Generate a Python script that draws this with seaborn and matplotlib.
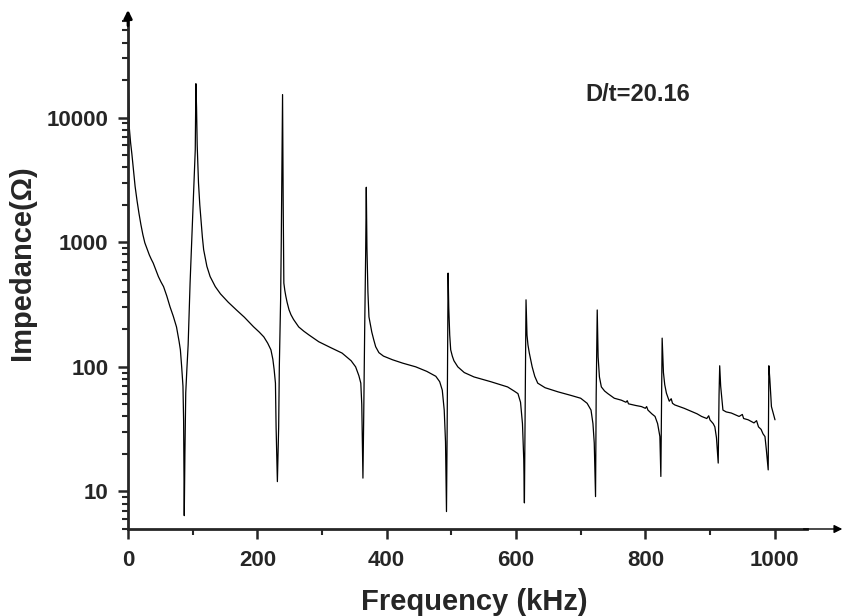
import numpy as np
import pandas as pd
import matplotlib
matplotlib.use("Agg")
import matplotlib.pyplot as plt
import seaborn as sns

# ---- data (frequency in kHz, impedance in Ohm) ----
freq_seg0 = [0, 1, 2, 3, 4, 6, 8, 11, 14, 17, 20, 23, 26, 30, 33, 36, 39, 43, 47, 51, 55, 60, 65, 70,
             75, 79, 81, 83, 85, 86, 87]
imp_seg0 = [20400, 15000, 8300, 7200, 6300, 5100, 4000, 2800, 2150, 1700, 1380, 1150, 990, 870, 790,
            730, 680, 600, 530, 480, 440, 370, 303, 255, 209, 160, 137, 100, 70, 37, 6.4]

freq_seg1 = [88, 89.3, 91, 93, 96, 99, 101, 104, 105, 106, 107, 109, 111, 113, 115, 117, 122, 127, 135,
             143, 155, 168, 180, 194, 203, 210, 216, 221, 224, 226, 228, 229, 231]
imp_seg1 = [20, 62, 95, 150, 470, 1180, 2200, 5500, 18700, 12000, 6000, 3000, 2000, 1500, 1100, 870,
            640, 530, 440, 385, 330, 285, 250, 210, 190, 174, 155, 137, 115, 95, 74, 33, 12]

freq_seg2 = [232, 233, 234, 236, 237, 238, 239, 240, 241, 242.5, 244, 246, 249, 252, 256, 264, 272,
             280, 295, 313, 331, 345, 352, 357, 360, 361.5, 362.5, 363.3]
imp_seg2 = [20, 33, 100, 345, 1000, 4000, 15300, 2000, 470, 410, 370, 330, 287, 262, 240, 209, 193,
            180, 159, 143, 129, 112, 100, 85, 74, 50, 25, 12.8]

freq_seg3 = [364.5, 366, 367.5, 368.5, 369.5, 371, 372.6, 375, 377, 380, 383, 388, 395, 409, 425, 445,
             462, 476, 482, 486, 489, 491, 492.5]
imp_seg3 = [40, 200, 800, 2760, 900, 400, 252, 215, 190, 165, 145, 130, 122, 114, 107, 100, 92, 84, 76,
            65, 45, 25, 6.9]

freq_seg4 = [493.5, 494.3, 495, 496, 497.5, 499, 501.5, 504, 510, 520, 535, 561, 587, 597, 603, 607,
             610, 612, 613]
imp_seg4 = [30, 150, 565, 300, 180, 137, 122, 112, 100, 90, 83, 76, 69, 64, 61, 52, 35, 18, 8.1]

freq_seg5 = [614, 615.5, 617, 618.5, 620.6, 625, 629, 633.6, 645, 665, 685, 700, 710, 716, 719, 721,
             723]
imp_seg5 = [40, 345, 180, 150, 129, 100, 84, 74, 68, 63, 59, 56, 51, 45, 35, 24.5, 9.1]

freq_seg6 = [724, 725.6, 727, 729, 732, 737, 742, 752, 763, 770, 772, 774, 785, 794, 800, 802, 804,
             810, 815, 819, 822.5, 824]
imp_seg6 = [60, 286, 120, 83, 69, 64, 61, 56, 54, 52, 53.5, 50.5, 49, 48, 46.5, 48, 45, 42, 40, 35,
            27.6, 13.2]

freq_seg7 = [825, 826, 828, 830, 832.6, 837, 840, 842, 845.5, 860, 871, 880, 887, 895, 898, 900, 905,
             907.5, 910, 912.7]
imp_seg7 = [50, 170, 90, 72, 61.5, 53, 55.5, 51, 49.5, 46.5, 44, 42, 40, 38.5, 40.5, 37.5, 35, 33, 27,
            16.9]

freq_seg8 = [914, 915, 916.5, 920, 925, 933, 945, 950, 952, 959, 968, 972, 975, 979, 982, 985, 987, 990]
imp_seg8 = [60, 102, 70, 45, 43.5, 42.6, 40, 41.5, 38.5, 37.6, 35.5, 37, 33, 31.5, 29, 27.6, 22, 14.9]

freq_seg9 = [990.5, 991, 992.5, 995, 998, 1000.5]
imp_seg9 = [40, 102, 80, 48, 42, 37.6]

x_ticks = [0, 200, 400, 600, 800, 1000]
y_ticks = [10, 100, 1000, 10000]
y_tick_labels = ["10", "100", "1000", "10000"]
annotation = "D/t=20.16"

freq = (freq_seg0 + freq_seg1 + freq_seg2 + freq_seg3 + freq_seg4 + freq_seg5 + freq_seg6 + freq_seg7
        + freq_seg8 + freq_seg9)
imp = (imp_seg0 + imp_seg1 + imp_seg2 + imp_seg3 + imp_seg4 + imp_seg5 + imp_seg6 + imp_seg7
       + imp_seg8 + imp_seg9)
df = pd.DataFrame({"Frequency": freq, "Impedance": imp})

# ---- style ----
sns.set_style("ticks")
plt.rcParams["font.family"] = ["Liberation Sans", "DejaVu Sans"]
plt.rcParams["font.weight"] = "bold"

fig = plt.figure(figsize=(8.44, 6.16), dpi=100)
ax = fig.add_axes([128 / 844, 87 / 616, 679 / 844, 508.4 / 616])

sns.lineplot(data=df, x="Frequency", y="Impedance", ax=ax, estimator=None, sort=False,
             color="black", linewidth=0.9)

ax.set_yscale("log")
ax.set_xlim(0, 1050)
ax.set_ylim(5, 60000)

ax.set_xticks(x_ticks)
ax.set_xticklabels([str(t) for t in x_ticks])
ax.xaxis.set_minor_locator(matplotlib.ticker.MultipleLocator(100))
ax.set_yticks(y_ticks)
ax.set_yticklabels(y_tick_labels)
ax.yaxis.set_minor_locator(matplotlib.ticker.LogLocator(base=10, subs=np.arange(2, 10)))
ax.yaxis.set_minor_formatter(matplotlib.ticker.NullFormatter())

for s in ["top", "right"]:
    ax.spines[s].set_visible(False)
for s in ["left", "bottom"]:
    ax.spines[s].set_linewidth(2.0)

ax.tick_params(axis="both", which="major", direction="out", length=7.2, width=1.8,
               labelsize=16, pad=7)
ax.tick_params(axis="x", which="major", pad=8)
ax.tick_params(axis="both", which="minor", direction="out", length=4.3, width=1.5)
for lab in ax.get_xticklabels() + ax.get_yticklabels():
    lab.set_fontweight("bold")

ax.set_xlabel("Frequency (kHz)", fontsize=21, fontweight="bold")
ax.set_ylabel("Impedance(\u03a9)", fontsize=21, fontweight="bold")
ax.xaxis.label.set_va("center")
ax.yaxis.label.set_va("center")
ax.xaxis.set_label_coords(0.5096, -0.143)
ax.yaxis.set_label_coords(-0.156, 0.523)

ax.text(0.673, 0.854, annotation, transform=ax.transAxes, fontsize=17, fontweight="bold",
        ha="left", va="center")

# axis arrows (Origin style)
ax.annotate("", xy=(1.052, 0), xytext=(0.995, 0), xycoords="axes fraction",
            arrowprops=dict(arrowstyle="-|>", lw=1.0, color="black", mutation_scale=12,
                            shrinkA=0, shrinkB=0), annotation_clip=False)
ax.annotate("", xy=(0, 1.021), xytext=(0, 0.99), xycoords="axes fraction",
            arrowprops=dict(arrowstyle="-|>", lw=2.0, color="black", mutation_scale=12,
                            shrinkA=0, shrinkB=0), annotation_clip=False)

fig.savefig("out.png", dpi=100)
